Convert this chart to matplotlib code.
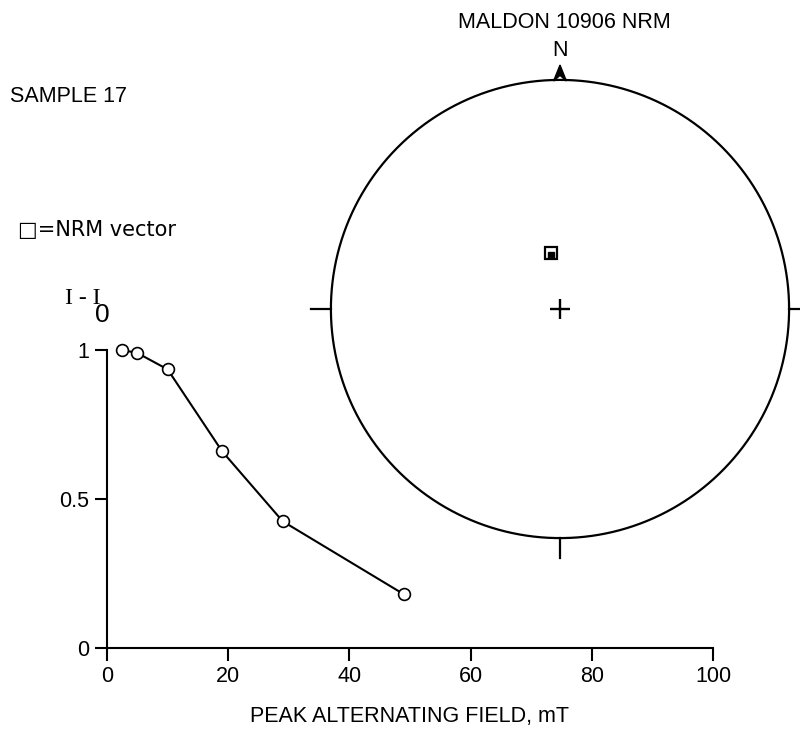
import numpy as np
import matplotlib.pyplot as plt

plt.rcParams['font.family'] = ['Liberation Sans', 'DejaVu Sans']

# AF demagnetisation of sample 17, intensity normalised to NRM
field = [2.5, 5, 10, 19, 29, 49]  # mT
intensity = [1.0, 0.99, 0.935, 0.66, 0.425, 0.18]

# NRM direction for the equal-area plot (degrees)
nrm_dec = 351
nrm_inc = 70

fig = plt.figure(figsize=(8, 7.35), dpi=100)

# --- demagnetisation curve ---
ax = fig.add_axes([0.13375, 0.1184, 0.7575, 0.4054])
ax.plot(field, intensity, color='black', lw=1.5, marker='o', ms=8.5,
        mfc='white', mec='black', mew=1.2, clip_on=False, zorder=3)
ax.set_xlim(0, 100)
ax.set_ylim(0, 1)
ax.set_xticks([0, 20, 40, 60, 80, 100])
ax.set_yticks([0, 0.5, 1])
ax.set_yticklabels(['0', '0.5', '1'])
ax.spines['top'].set_visible(False)
ax.spines['right'].set_visible(False)
for s in ['left', 'bottom']:
    ax.spines[s].set_linewidth(1.5)
ax.tick_params(length=9, width=1.5, labelsize=15.5, pad=4)
ax.set_xlabel('PEAK ALTERNATING FIELD, mT', fontsize=15.5, labelpad=14)

# y label: I - I0
fig.text(65 / 800, 1 - 298 / 735, 'I - I', family='Liberation Serif',
         fontsize=17, va='center', ha='left')
fig.text(95 / 800, 1 - 315 / 735, '0', fontsize=19, va='center', ha='left')

# --- equal-area stereonet ---
sx = fig.add_axes([308 / 800, 1 - 561 / 735, 504 / 800, 504 / 735])
sx.set_xlim(-1.1, 1.1)
sx.set_ylim(-1.1, 1.1)
sx.set_aspect('equal')
sx.axis('off')

t = np.linspace(0, 2 * np.pi, 400)
sx.plot(np.cos(t), np.sin(t), color='black', lw=1.6, clip_on=False)
tk = 0.088
sx.plot([-1 - tk, -1], [0, 0], color='black', lw=1.6, clip_on=False)
sx.plot([1, 1 + tk], [0, 0], color='black', lw=1.6, clip_on=False)
sx.plot([0, 0], [-1, -1 - tk], color='black', lw=1.6, clip_on=False)
# north arrow
sx.fill([-0.028, 0, 0.028, 0], [0.995, 1.065, 0.995, 1.02], color='black',
        clip_on=False)
sx.text(0, 1.13, 'N', fontsize=15.5, ha='center', va='center')

# centre cross
sx.plot(0, 0, marker='+', ms=15, mew=1.7, color='black')

# NRM vector, lower hemisphere equal-area projection
r = np.sqrt(2) * np.sin(np.radians(90 - nrm_inc) / 2)
px = r * np.sin(np.radians(nrm_dec))
py = r * np.cos(np.radians(nrm_dec))
sx.plot(px, py, marker='s', ms=8.5, mfc='white', mec='black', mew=1.6)
sx.plot(px, py - 0.005, marker='s', ms=4, color='black')

fig.text(564 / 800, 1 - 22 / 735, 'MALDON 10906 NRM', fontsize=15.5,
         ha='center', va='center')
fig.text(10 / 800, 1 - 97 / 735, 'SAMPLE 17', fontsize=15.5,
         ha='left', va='center')
fig.text(18 / 800, 1 - 230 / 735, '\u25a1=NRM vector', fontsize=15,
         ha='left', va='center', family=['DejaVu Sans'])

fig.savefig('out.png', dpi=100)
